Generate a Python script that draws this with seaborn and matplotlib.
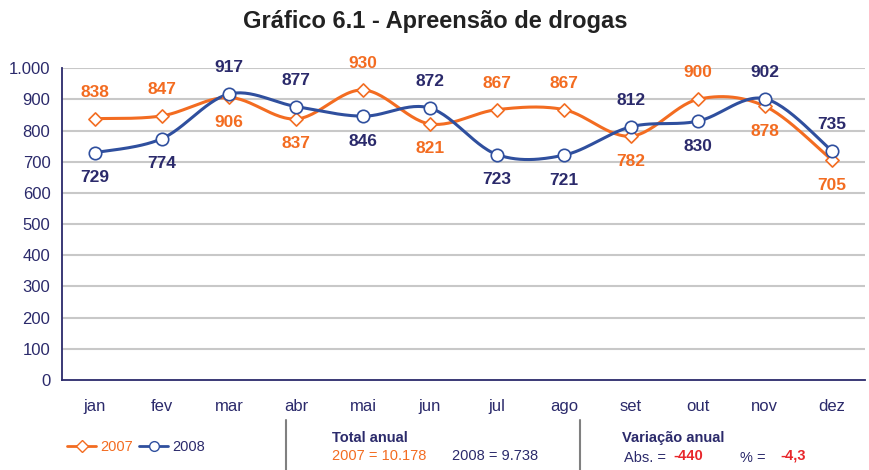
import numpy as np
import pandas as pd
import matplotlib
matplotlib.use("Agg")
import matplotlib.pyplot as plt
from matplotlib.lines import Line2D
import seaborn as sns

months = ["jan", "fev", "mar", "abr", "mai", "jun", "jul", "ago", "set", "out", "nov", "dez"]
v2007 = [838, 847, 906, 837, 930, 821, 867, 867, 782, 900, 878, 705]
v2008 = [729, 774, 917, 877, 846, 872, 723, 721, 812, 830, 902, 735]
y_ticks = [0, 100, 200, 300, 400, 500, 600, 700, 800, 900, 1000]
title = "Gráfico 6.1 - Apreensão de drogas"
total_2007 = "10.178"
total_2008 = "9.738"
var_abs = "-440"
var_pct = "-4,3"

ORANGE = "#F36C21"
BLUE = "#2F4F9E"
NAVY = "#2B2A6B"
RED = "#E8262B"
GRID = "#C8C8C8"

sns.set_theme(style="white")
plt.rcParams["font.family"] = ["Liberation Sans", "DejaVu Sans"]


def smooth(y, n=30):
    """Catmull-Rom (Excel-like) smoothing derived from data."""
    y = np.asarray(y, float)
    x = np.arange(len(y), dtype=float)
    px = np.concatenate([[x[0]], x, [x[-1]]])
    py = np.concatenate([[y[0]], y, [y[-1]]])
    xs, ys = [], []
    for i in range(1, len(px) - 2):
        p0, p1, p2, p3 = [np.array([px[j], py[j]]) for j in (i - 1, i, i + 1, i + 2)]
        c1 = p1 + (p2 - p0) / 6.0
        c2 = p2 - (p3 - p1) / 6.0
        t = np.linspace(0, 1, n)[:, None]
        b = ((1 - t) ** 3) * p1 + 3 * ((1 - t) ** 2) * t * c1 + 3 * (1 - t) * t ** 2 * c2 + t ** 3 * p2
        xs.extend(b[:, 0]); ys.extend(b[:, 1])
    return np.array(xs), np.array(ys)


fig = plt.figure(figsize=(8.7, 4.7), dpi=100)
ax = fig.add_axes([0.0707, 0.1915, 0.924, 0.6635])

for vals, color in ((v2007, ORANGE), (v2008, BLUE)):
    sx, sy = smooth(vals)
    df = pd.DataFrame({"x": sx, "y": sy})
    sns.lineplot(data=df, x="x", y="y", ax=ax, color=color, lw=2.2, sort=False, estimator=None, zorder=3)

d07 = pd.DataFrame({"x": np.arange(12), "y": v2007})
d08 = pd.DataFrame({"x": np.arange(12), "y": v2008})
sns.scatterplot(data=d07, x="x", y="y", ax=ax, marker="D", s=45, facecolor="white",
                edgecolor=ORANGE, linewidth=1.2, zorder=4)
sns.scatterplot(data=d08, x="x", y="y", ax=ax, marker="o", s=80, facecolor="white",
                edgecolor=BLUE, linewidth=1.2, zorder=4)

for i in range(12):
    a, b = v2007[i], v2008[i]
    for val, col, other in ((a, ORANGE, b), (b, NAVY, a)):
        off = 19 if val >= other else -18
        ax.annotate(f"{val}", (i, val), xytext=(0, off), textcoords="offset points",
                    ha="center", va="center", fontsize=12.5, fontweight="bold", color=col)

ax.set_xlim(-0.5, 11.5)
ax.set_ylim(0, 1000)
ax.set_yticks(y_ticks)
ax.set_yticklabels([f"{v:,}".replace(",", ".") for v in y_ticks], color=NAVY, fontsize=12)
ax.set_xticks(np.arange(12))
ax.set_xticklabels(months, color=NAVY, fontsize=12)
ax.tick_params(axis="x", length=0, pad=14)
ax.set_xticks(np.arange(-0.5, 12, 1), minor=True)
ax.tick_params(axis="x", which="minor", length=5, color=NAVY, width=1.2, direction="out")
ax.tick_params(axis="y", length=5, color=NAVY, width=1.2, direction="out", pad=3)
ax.set_xlabel("")
ax.set_ylabel("")
for yv in y_ticks[1:]:
    ax.axhline(yv, color=GRID, lw=1.5, zorder=1)
for s in ("top", "right"):
    ax.spines[s].set_visible(False)
for s in ("left", "bottom"):
    ax.spines[s].set_color(NAVY)
    ax.spines[s].set_linewidth(1.3)

fig.text(0.5, 0.955, title, ha="center", va="center", fontsize=17, fontweight="bold", color="#222222")

handles = [Line2D([], [], color=ORANGE, lw=2, marker="D", markersize=6, markerfacecolor="white",
                  markeredgecolor=ORANGE),
           Line2D([], [], color=BLUE, lw=2, marker="o", markersize=7, markerfacecolor="white",
                  markeredgecolor=BLUE)]
leg = fig.legend(handles, ["2007", "2008"], loc="center left", bbox_to_anchor=(0.062, 0.048), ncol=2,
                 frameon=False, handlelength=2.0, handletextpad=0.3, columnspacing=0.4, fontsize=10.5)
leg.get_texts()[0].set_color(ORANGE)
leg.get_texts()[1].set_color(NAVY)

for xf in (286 / 870, 580 / 870):
    fig.add_artist(Line2D([xf, xf], [0, 50 / 470], color="#808080", lw=1.5))

fig.text(332 / 870, 1 - 438 / 470, "Total anual", fontsize=10.5, fontweight="bold", color=NAVY, va="center")
fig.text(332 / 870, 1 - 456 / 470, f"2007 = {total_2007}", fontsize=10.5, color=ORANGE, va="center")
fig.text(452 / 870, 1 - 456 / 470, f"2008 = {total_2008}", fontsize=10.5, color=NAVY, va="center")
fig.text(622 / 870, 1 - 438 / 470, "Variação anual", fontsize=10.5, fontweight="bold", color=NAVY, va="center")
fig.text(624 / 870, 1 - 458 / 470, "Abs. = ", fontsize=10.5, color=NAVY, va="center")
fig.text(673 / 870, 1 - 456 / 470, var_abs, fontsize=10.5, fontweight="bold", color=RED, va="center")
fig.text(740 / 870, 1 - 458 / 470, "% = ", fontsize=10.5, color=NAVY, va="center")
fig.text(780 / 870, 1 - 456 / 470, var_pct, fontsize=10.5, fontweight="bold", color=RED, va="center")

fig.savefig("out.png", dpi=100, facecolor="white")
